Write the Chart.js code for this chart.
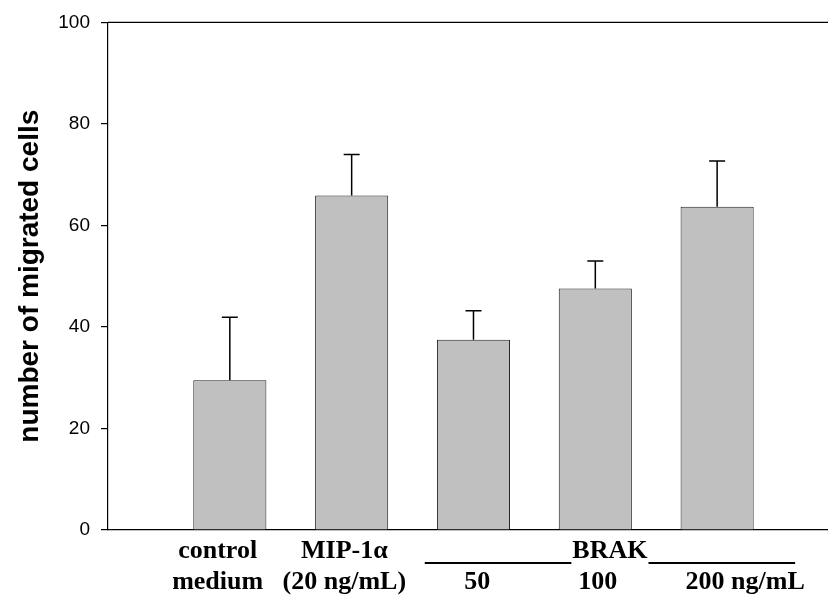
<!DOCTYPE html>
<html>
<head>
<meta charset="utf-8">
<title>Migrated cells</title>
<script src="https://cdn.jsdelivr.net/npm/chart.js@4.4.0/dist/chart.umd.min.js"></script>
<style>
  html, body { margin: 0; padding: 0; background: #fff; }
  #wrap { width: 828px; height: 598px; }
</style>
</head>
<body>
<div id="wrap"><canvas id="barChart" width="828" height="598"></canvas></div>
<script>
// values
const positions = [1, 2, 3, 4, 5];
const means = [29.5, 65.9, 37.5, 47.6, 63.7];
const sems = [12.4, 8.1, 5.7, 5.4, 9.0];
const yTicks = [0, 20, 40, 60, 80, 100];

// x axis text (two rows + the BRAK group)
const labelTop = ['control', 'MIP-1\u03b1', '', '', ''];
const labelBottom = ['medium', '(20 ng/mL)', '50', '100', '200 ng/mL'];
const groupLabel = 'BRAK';

// layout of that text, in x-axis units
const labelShift = [-0.1, -0.06, 0.03, 0.02, 0.23];
const groupAt = 4.12;
const groupSpan = [2.6, 5.64];

// error bars: upper whisker only, like the original
const errorBars = {
    id: 'errorBars',
    afterDatasetsDraw(chart) {
        const { ctx, scales: { x, y } } = chart;
        ctx.save();
        ctx.strokeStyle = '#000';
        ctx.lineWidth = 1.5;
        positions.forEach(function(p, i) {
            const px = x.getPixelForValue(p);
            const base = y.getPixelForValue(means[i]);
            const top = y.getPixelForValue(means[i] + sems[i]);
            ctx.beginPath();
            ctx.moveTo(px, base);
            ctx.lineTo(px, top);
            ctx.moveTo(px - 8, top);
            ctx.lineTo(px + 8, top);
            ctx.stroke();
        });
        ctx.restore();
    }
};

// top frame line + custom x labels
const frameAndLabels = {
    id: 'frameAndLabels',
    afterDraw(chart) {
        const { ctx, chartArea, scales: { x } } = chart;
        ctx.save();
        ctx.strokeStyle = '#000';
        ctx.lineWidth = 1.2;
        ctx.beginPath();
        ctx.moveTo(chartArea.left, chartArea.top);
        ctx.lineTo(chartArea.right, chartArea.top);
        ctx.stroke();

        const row1 = chartArea.bottom + 28;
        const row2 = chartArea.bottom + 59;
        ctx.fillStyle = '#000';
        ctx.font = 'bold 26px "Liberation Serif", "Times New Roman", serif';
        ctx.textAlign = 'center';
        ctx.textBaseline = 'alphabetic';
        positions.forEach(function(p, i) {
            const px = x.getPixelForValue(p + labelShift[i]);
            if (labelTop[i]) ctx.fillText(labelTop[i], px, row1);
            ctx.fillText(labelBottom[i], px, row2);
        });

        const gx = x.getPixelForValue(groupAt);
        ctx.fillText(groupLabel, gx, row1);
        const half = ctx.measureText(groupLabel).width / 2;
        const lineY = row1 + 5;
        ctx.lineWidth = 2;
        ctx.beginPath();
        ctx.moveTo(x.getPixelForValue(groupSpan[0]), lineY);
        ctx.lineTo(gx - half - 1, lineY);
        ctx.moveTo(gx + half + 1, lineY);
        ctx.lineTo(x.getPixelForValue(groupSpan[1]), lineY);
        ctx.stroke();
        ctx.restore();
    }
};

const ctx = document.getElementById('barChart').getContext('2d');
new Chart(ctx, {
    type: 'bar',
    data: {
        datasets: [{
            data: positions.map(function(p, i) { return { x: p, y: means[i] }; }),
            backgroundColor: '#c0c0c0',
            borderColor: '#222',
            borderWidth: 1,
            barPercentage: 0.6,
            categoryPercentage: 1.0
        }]
    },
    options: {
        responsive: false,
        animation: false,
        layout: { padding: { top: 18, right: 0, bottom: 0, left: 0 } },
        plugins: { legend: { display: false }, tooltip: { enabled: false } },
        scales: {
            x: {
                type: 'linear',
                min: 0,
                max: 5.91,
                offset: false,
                afterFit: function(s) { s.height = 68; },
                afterBuildTicks: function(s) { s.ticks = positions.map(function(v) { return { value: v }; }); },
                ticks: { display: false },
                grid: { display: false, drawTicks: false },
                border: { display: true, color: '#000', width: 1.2 }
            },
            y: {
                min: 0,
                max: 100,
                afterFit: function(s) { s.width = 108; },
                afterBuildTicks: function(s) { s.ticks = yTicks.map(function(v) { return { value: v }; }); },
                ticks: {
                    color: '#000',
                    padding: 11,
                    font: { family: '"Liberation Sans", Arial, sans-serif', size: 19 }
                },
                grid: { drawOnChartArea: false, drawTicks: true, tickLength: 7, color: '#000', lineWidth: 1.2 },
                border: { display: true, color: '#000', width: 1.2 },
                title: {
                    display: true,
                    text: 'number of migrated cells',
                    color: '#000',
                    padding: { top: 13, bottom: 0 },
                    font: { family: '"Liberation Sans", Arial, sans-serif', size: 28, weight: 'bold' }
                }
            }
        }
    },
    plugins: [errorBars, frameAndLabels]
});
</script>
</body>
</html>
